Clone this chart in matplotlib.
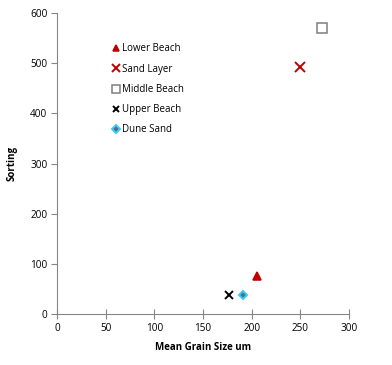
import matplotlib
matplotlib.use("Agg")
import matplotlib.pyplot as plt

plt.rcParams['font.family'] = ['Open Sans', 'DejaVu Sans']

# values
series = ['Lower Beach', 'Sand Layer', 'Middle Beach', 'Upper Beach', 'Dune Sand']
grain_size = [205, 250, 272, 177, 191]
sorting = [76, 492, 571, 38, 38]

markers = ['^', 'x', 's', 'x', 'D']
face = ['#C00000', '#C00000', 'white', 'black', '#4F6228']
edge = ['#C00000', '#C00000', '#7F7F7F', 'black', '#33CCFF']
sizes = [6, 6.5, 6.5, 6, 4.5]

fig = plt.figure(figsize=(3.92, 3.65), dpi=100)
ax = fig.add_axes([0.1454, 0.1397, 0.7449, 0.8247])

for i, name in enumerate(series):
    if markers[i] == 'x':
        ax.plot(grain_size[i], sorting[i], linestyle='none', marker='x',
                color=face[i], markersize=sizes[i], markeredgewidth=1.4,
                label=name)
    elif markers[i] == 'D':
        ax.plot(grain_size[i], sorting[i], linestyle='none', marker='D',
                markerfacecolor='#5A6E7A', markeredgecolor=edge[i],
                markersize=sizes[i], markeredgewidth=1.4, label=name)
    else:
        ax.plot(grain_size[i], sorting[i], linestyle='none', marker=markers[i],
                markerfacecolor=face[i], markeredgecolor=edge[i],
                markersize=sizes[i], markeredgewidth=1.1, label=name)

ax.set_xlim(0, 300)
ax.set_ylim(0, 600)
ax.set_xticks(range(0, 301, 50))
ax.set_yticks(range(0, 601, 100))

for s in ['top', 'right']:
    ax.spines[s].set_visible(False)
for s in ['left', 'bottom']:
    ax.spines[s].set_color('#868686')
ax.tick_params(axis='x', direction='inout', length=7, color='#868686',
               labelsize=7.2, pad=3)
ax.tick_params(axis='y', direction='out', length=4, color='#868686',
               labelsize=7.2, pad=3)

ax.set_xlabel('Mean Grain Size um', fontsize=7, fontweight='bold', labelpad=6)
ax.set_ylabel('Sorting', fontsize=7, fontweight='bold', labelpad=9)

ax.legend(loc='upper left', bbox_to_anchor=(0.17, 0.915), frameon=False,
          fontsize=7, handletextpad=0.2, labelspacing=0.95,
          handlelength=0.85, borderpad=0, markerscale=0.8)

fig.savefig('out.png', dpi=100)
